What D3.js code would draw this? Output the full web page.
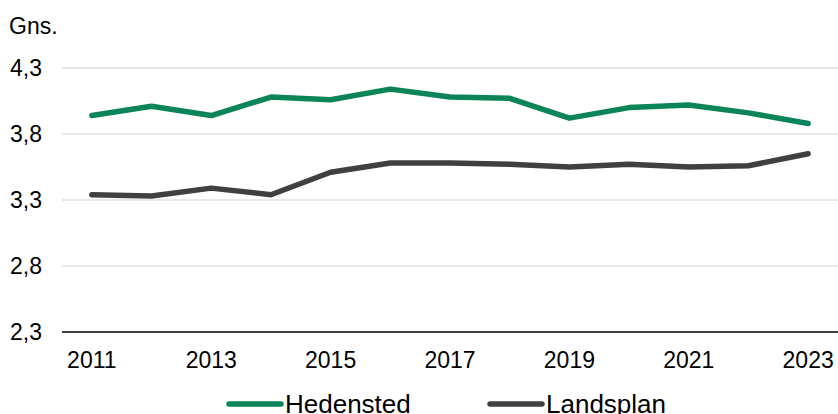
<!DOCTYPE html>
<html>
<head>
<meta charset="utf-8">
<script src="https://d3js.org/d3.v7.min.js"></script>
<style>
  body { margin: 0; background: #fff; }
  text { font-family: "Liberation Sans", Arial, sans-serif; fill: #000; }
</style>
</head>
<body>
<script>
var years = [2011, 2012, 2013, 2014, 2015, 2016, 2017, 2018, 2019, 2020, 2021, 2022, 2023];
var hedensted = [3.94, 4.01, 3.94, 4.08, 4.06, 4.14, 4.08, 4.07, 3.92, 4.00, 4.02, 3.96, 3.88];
var landsplan = [3.34, 3.33, 3.39, 3.34, 3.51, 3.58, 3.58, 3.57, 3.55, 3.57, 3.55, 3.56, 3.65];
var yTicks = [2.3, 2.8, 3.3, 3.8, 4.3];
var xTickYears = [2011, 2013, 2015, 2017, 2019, 2021, 2023];

var width = 838,
    height = 414;

var svg = d3.select("body").append("svg")
    .attr("width", width)
    .attr("height", height);

var x = d3.scalePoint()
    .domain(years)
    .range([62, 838])
    .padding(0.5);

var y = d3.scaleLinear()
    .domain([2.3, 4.3])
    .range([332, 68]);

var fmt = function(d) { return d3.format(".1f")(d).replace(".", ","); };

// gridlines
svg.append("g")
  .selectAll("line")
  .data(yTicks.slice(1))
  .enter().append("line")
    .attr("x1", 62)
    .attr("x2", 838)
    .attr("y1", function(d) { return y(d); })
    .attr("y2", function(d) { return y(d); })
    .attr("stroke", "#d0d0d0")
    .attr("stroke-width", 1);

// y labels
svg.append("g")
  .selectAll("text")
  .data(yTicks)
  .enter().append("text")
    .attr("x", 42)
    .attr("y", function(d) { return y(d); })
    .attr("dy", "0.35em")
    .attr("text-anchor", "end")
    .style("font-size", "23px")
    .text(fmt);

svg.append("text")
    .attr("x", 9)
    .attr("y", 34)
    .style("font-size", "23px")
    .text("Gns.");

// x axis line
svg.append("line")
    .attr("x1", 62)
    .attr("x2", 838)
    .attr("y1", y(2.3))
    .attr("y2", y(2.3))
    .attr("stroke", "#000")
    .attr("stroke-width", 1.5);

svg.append("g")
  .selectAll("text")
  .data(xTickYears)
  .enter().append("text")
    .attr("x", function(d) { return x(d); })
    .attr("y", 368)
    .attr("text-anchor", "middle")
    .style("font-size", "23px")
    .text(function(d) { return d; });

var series = [
  { name: "Hedensted", values: hedensted, color: "#0b8457" },
  { name: "Landsplan", values: landsplan, color: "#404040" }
];

var line = d3.line()
    .x(function(d, i) { return x(years[i]); })
    .y(function(d) { return y(d); });

svg.append("g")
  .selectAll("path")
  .data(series)
  .enter().append("path")
    .attr("d", function(d) { return line(d.values); })
    .attr("fill", "none")
    .attr("stroke", function(d) { return d.color; })
    .attr("stroke-width", 5.5)
    .attr("stroke-linecap", "round")
    .attr("stroke-linejoin", "round");

// legend
var legendX = [229, 490];
var legend = svg.append("g")
  .selectAll("g")
  .data(series)
  .enter().append("g")
    .attr("transform", function(d, i) { return "translate(" + legendX[i] + ",404)"; });

legend.append("line")
    .attr("x1", 0)
    .attr("x2", 52)
    .attr("stroke", function(d) { return d.color; })
    .attr("stroke-width", 5.5)
    .attr("stroke-linecap", "round");

legend.append("text")
    .attr("x", 56)
    .attr("dy", "0.35em")
    .style("font-size", "26px")
    .text(function(d) { return d.name; });
</script>
</body>
</html>
